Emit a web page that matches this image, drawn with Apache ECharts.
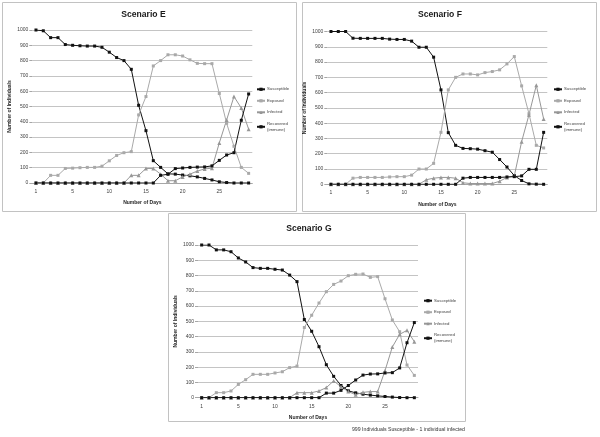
<!DOCTYPE html>
<html>
<head>
<meta charset="utf-8">
<script src="https://cdn.jsdelivr.net/npm/echarts@6/dist/echarts.min.js"></script>
<style>
  html, body { margin: 0; padding: 0; background: #fff; }
  #chart { width: 600px; height: 437px; }
</style>
</head>
<body>
<div id="chart"></div>
<script>
// days on the x axis and the labels Excel printed under every 5th one
const days = ['1','2','3','4','5','6','7','8','9','10','11','12','13','14','15',
  '16','17','18','19','20','21','22','23','24','25','26','27','28','29','30'];
const dayTickLabels = ['1', '5', '10', '15', '20', '25'];
const seriesNames = ['Susceptible', 'Exposed', 'Infected', 'Recovered (immune)'];

// Scenario E
const scenESusceptible = [1000, 995, 950, 950, 905, 900, 897, 895, 895, 887, 855, 820, 800, 743, 508,
  342, 146, 102, 60, 58, 52, 47, 40, 30, 20, 8, 3, 0, 0, 0];
const scenEExposed = [0, 0, 50, 50, 95, 97, 100, 102, 102, 110, 145, 180, 198, 205, 445,
  565, 765, 800, 838, 838, 830, 805, 782, 780, 780, 585, 390, 240, 102, 63];
const scenEInfected = [0, 0, 0, 0, 0, 0, 0, 0, 0, 0, 0, 0, 0, 50, 50,
  95, 95, 58, 15, 15, 40, 58, 78, 92, 97, 262, 412, 565, 490, 352];
const scenERecovered = [0, 0, 0, 0, 0, 0, 0, 0, 0, 0, 0, 0, 0, 0, 0,
  0, 0, 50, 57, 94, 98, 102, 104, 105, 112, 148, 183, 198, 410, 582];

// Scenario F
const scenFSusceptible = [1000, 1000, 1000, 956, 955, 955, 955, 955, 950, 948, 948, 937, 897, 897, 832,
  618, 338, 255, 235, 233, 230, 220, 210, 162, 113, 57, 25, 3, 1, 0];
const scenFExposed = [0, 0, 0, 40, 45, 45, 45, 45, 48, 50, 50, 60, 100, 100, 137,
  340, 618, 700, 722, 722, 716, 731, 738, 749, 788, 836, 644, 462, 255, 238];
const scenFInfected = [0, 0, 0, 0, 0, 0, 0, 0, 0, 0, 0, 0, 0, 30, 40,
  45, 45, 40, 10, 5, 5, 5, 5, 20, 45, 55, 279, 455, 648, 428];
const scenFRecovered = [0, 0, 0, 0, 0, 0, 0, 0, 0, 0, 0, 0, 0, 0, 0,
  0, 0, 0, 40, 45, 45, 45, 45, 45, 48, 50, 55, 98, 98, 340];

// Scenario G
const scenGSusceptible = [1000, 1000, 968, 968, 956, 915, 889, 852, 847, 847, 841, 836, 803, 760, 512,
  435, 334, 216, 140, 80, 45, 32, 23, 17, 12, 8, 4, 1, 0, 0];
const scenGExposed = [0, 0, 33, 33, 44, 87, 118, 153, 153, 153, 162, 170, 197, 207, 460,
  540, 620, 694, 742, 764, 799, 808, 810, 788, 793, 648, 509, 432, 214, 146];
const scenGInfected = [0, 0, 0, 0, 0, 0, 0, 0, 0, 0, 0, 0, 0, 33, 33,
  33, 44, 66, 110, 72, 40, 20, 35, 40, 40, 177, 332, 415, 441, 367];
const scenGRecovered = [0, 0, 0, 0, 0, 0, 0, 0, 0, 0, 0, 0, 0, 0, 0,
  0, 0, 30, 30, 48, 80, 116, 148, 155, 156, 162, 164, 195, 360, 492];

const caption = '999 Individuals Susceptible - 1 individual infected';

const FONT = '"Liberation Sans", Arial, sans-serif';

const panels = [
  { title: 'Scenario E', box: [2.5, 2.5, 294, 209], grid: { left: 32.3, top: 30, width: 220, height: 153 },
    titleAt: [143.5, 15], legendAt: [256, 86.3],
    values: [scenESusceptible, scenEExposed, scenEInfected, scenERecovered] },
  { title: 'Scenario F', box: [302.5, 2.5, 294, 209], grid: { left: 327.3, top: 31.5, width: 220, height: 152.8 },
    titleAt: [440, 15], legendAt: [553, 86.3],
    values: [scenFSusceptible, scenFExposed, scenFInfected, scenFRecovered] },
  { title: 'Scenario G', box: [168.5, 213.5, 297, 208], grid: { left: 198, top: 245, width: 220, height: 152.7 },
    titleAt: [309, 228.3], legendAt: [423, 297.7],
    values: [scenGSusceptible, scenGExposed, scenGInfected, scenGRecovered] }
];

const styles = {
  'Susceptible': { color: '#111111', symbol: 'rect', size: 3 },
  'Exposed': { color: '#a9a9a9', symbol: 'rect', size: 3 },
  'Infected': { color: '#979797', symbol: 'triangle', size: 4 },
  'Recovered (immune)': { color: '#111111', symbol: 'rect', size: 3 }
};

const chart = echarts.init(document.getElementById('chart'));

const option = {
  animation: false,
  backgroundColor: '#ffffff',
  grid: panels.map(p => p.grid),
  xAxis: panels.map((p, i) => ({
    gridIndex: i,
    type: 'category',
    data: days,
    boundaryGap: true,
    axisLine: { lineStyle: { color: '#a6a6a6', width: 1 } },
    axisTick: { show: false },
    axisLabel: {
      interval: 4,
      margin: 6,
      fontSize: 5,
      color: '#404040',
      fontFamily: FONT,
      formatter: (v, idx) => dayTickLabels[idx / 5]
    },
    name: 'Number of Days',
    nameLocation: 'middle',
    nameGap: 17.5,
    nameTextStyle: { fontSize: 5, fontWeight: 'bold', color: '#262626', fontFamily: FONT }
  })),
  yAxis: panels.map((p, i) => ({
    gridIndex: i,
    type: 'value',
    min: 0,
    max: 1000,
    interval: 100,
    axisLine: { show: false },
    axisTick: { show: true, length: 3, lineStyle: { color: '#a6a6a6' } },
    splitLine: { lineStyle: { color: '#c4c4c4', width: 1 } },
    axisLabel: { margin: 4, fontSize: 5, color: '#404040', fontFamily: FONT, formatter: v => String(v) },
    name: 'Number of Individuals',
    nameLocation: 'middle',
    nameGap: 20,
    nameTextStyle: { fontSize: 5, fontWeight: 'bold', color: '#262626', fontFamily: FONT }
  })),
  legend: panels.map(p => ({
    orient: 'vertical',
    left: p.legendAt[0],
    top: p.legendAt[1],
    padding: 0,
    itemWidth: 8,
    itemHeight: 4,
    itemGap: 5.5,
    selectedMode: false,
    data: seriesNames,
    formatter: n => n === 'Recovered (immune)' ? 'Recovered\n(immune)' : n,
    textStyle: { fontSize: 4.3, lineHeight: 6, color: '#404040', fontFamily: FONT, padding: [0, 0, 0, -3] }
  })),
  series: [],
  graphic: []
};

panels.forEach((p, i) => {
  seriesNames.forEach((name, k) => {
    const s = styles[name];
    option.series.push({
      name: name,
      type: 'line',
      xAxisIndex: i,
      yAxisIndex: i,
      data: p.values[k],
      symbol: s.symbol,
      symbolSize: s.size,
      showAllSymbol: true,
      lineStyle: { color: s.color, width: 1 },
      itemStyle: { color: s.color },
      emphasis: { disabled: true }
    });
  });

  option.graphic.push({
    type: 'rect',
    shape: { x: p.box[0], y: p.box[1], width: p.box[2], height: p.box[3] },
    style: { fill: 'none', stroke: '#c2c2c2', lineWidth: 1 },
    silent: true
  });
  option.graphic.push({
    type: 'text',
    x: p.titleAt[0],
    y: p.titleAt[1],
    style: {
      text: p.title,
      align: 'center',
      verticalAlign: 'middle',
      fill: '#1a1a1a',
      font: 'bold 8.6px ' + FONT
    },
    silent: true
  });
});

option.graphic.push({
  type: 'text',
  x: 465,
  y: 430,
  style: {
    text: caption,
    align: 'right',
    verticalAlign: 'middle',
    fill: '#333333',
    font: '5.2px ' + FONT
  },
  silent: true
});

chart.setOption(option);
</script>
</body>
</html>
